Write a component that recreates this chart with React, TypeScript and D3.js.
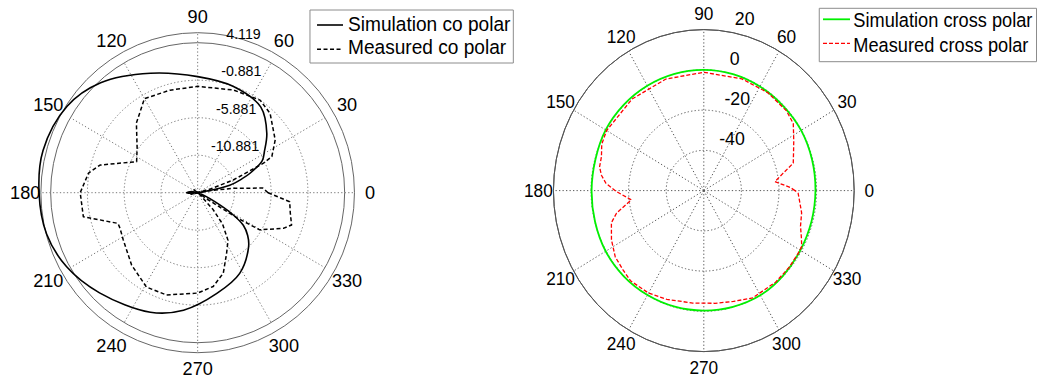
import React from 'react';
import * as d3 from 'd3';

const W = 1037;
const H = 382;

// ---- Co-polar pattern (dB) ----
const coSimAngles = [0, 6, 10, 13, 17, 20, 26, 31, 40, 53, 71, 90, 112, 132, 147, 165, 180, 195, 209, 225, 248, 263, 281, 298, 314, 320, 325, 329, 333, 340, 350];
const coSimDb = [-17.4, -16.6, -14.6, -11.4, -9.6, -8.3, -6.1, -5.3, -3.6, -1.6, -0.9, -0.4, 1.3, 3.85, 5.3, 5.9, 5.7, 5.4, 4.5, 3.0, 1.3, -0.1, -2.2, -3.7, -5.9, -7.0, -8.3, -10.5, -13.2, -15.4, -16.7];

const coMeasAngles = [0, 4, 7, 10, 13, 16, 19.3, 23.7, 25.5, 33.7, 47, 55.5, 70.5, 90, 105.4, 120, 131.9, 144, 153.5, 164.5, 170, 180, 191.6, 200.7, 204.2, 211.9, 227, 241, 252.8, 270, 279.6, 288, 296, 303, 309, 313, 318, 322, 326, 328, 329.6, 337.8, 341.4, 348, 354.5];
const coMeasDb = [-6.3, -7.0, -11.1, -14.5, -16.8, -14.0, -10.75, -6.1, -4.7, -3.2, -1.43, -0.9, -1.35, -1.7, -1.7, -1.4, -3.4, -5.7, -6.6, -2.1, -0.8, 0.1, 0.0, -4.3, -4.3, -3.96, -2.7, -1.5, -1.6, -2.5, -3.2, -4.6, -6.9, -8.3, -10.5, -12.8, -15.5, -16.5, -14.5, -9.5, -6.1, -3.3, -2.4, -3.0, -3.3];

const coRingTicks = [-10.881, -5.881, -0.881, 4.119];
const coCenterDb = -15.881;

// ---- Cross-polar pattern (dB) ----
const xSimAngles = [0, 15, 30, 45, 60, 75, 90, 105, 120, 135, 150, 165, 180, 195, 210, 225, 240, 255, 270, 285, 300, 315, 330, 345];
const xSimDb = [-0.6, -0.4, -0.2, -0.4, -0.3, -0.1, 0, 0.1, 0.2, 0.3, 0.3, -0.3, -0.3, -0.1, 0.3, 0.2, -0.1, -0.3, -0.4, -0.2, 0.1, -0.3, -0.7, -0.7];

const xMeasAngles = [0, 2, 6.7, 11.6, 16, 22, 27, 31, 35, 42, 55, 70, 90, 110, 130, 150, 157, 162.8, 168, 172, 176, 180.6, 186.8, 193.6, 198, 206.5, 215, 222.5, 229, 240, 250, 264, 276, 286, 296, 310, 320, 328, 332, 336, 341, 348, 355, 358.5];
const xMeasDb = [-11.5, -14, -21.9, -16.9, -10.5, -8.5, -6.3, -4.3, -1.9, -0.8, -0.6, -0.9, -1.2, -1.0, -0.6, -0.3, -1.0, -3.0, -3.3, -5, -7.8, -13.5, -21.2, -12.2, -8.3, -5.1, -2.5, -1.7, -0.6, -1.2, -2.5, -3.8, -3.7, -2.7, -0.7, -0.6, -0.7, -0.9, -1.0, -3.2, -5.6, -6.8, -9.0, -9.8];

const xRingTicks = [-40, -20, 0, 20];
const xCenterDb = -60;

const angleTicks = [0, 30, 60, 90, 120, 150, 180, 210, 240, 270, 300, 330];

const FONT = '"Liberation Sans", Arial, sans-serif';
const toRad = (d: number) => (d * Math.PI) / 180;

type Series = {
  angles: number[];
  values: number[];
  color: string;
  width: number;
  dash?: string;
  smooth: boolean;
  label: string;
};

type PanelProps = {
  x0: number;
  sx: number;
  cx: number;
  cy: number;
  rMax: number;
  rOuter: number;
  centerDb: number;
  ticks: number[];
  tickFont: number;
  gridColor: string;
  frameColor: string;
  series: Series[];
  legendBox: [number, number, number, number];
  legendLineX: [number, number];
  legendLineY: number[];
  legendTextX: number;
  legendBaseY: number[];
};

function PolarPanel(p: PanelProps) {
  const r = d3
    .scaleLinear()
    .domain([p.centerDb, p.ticks[p.ticks.length - 1]])
    .range([0, p.rMax]);
  const rinc = r(p.ticks[1]) - r(p.ticks[0]);
  const labelR = 1.1 * p.rOuter;

  const makePath = (s: Series) => {
    const data = s.angles.map((a, i) => [a, s.values[i]] as [number, number]);
    const gen = d3
      .lineRadial<[number, number]>()
      .angle((d) => Math.PI / 2 - toRad(d[0]))
      .radius((d) => r(d[1]))
      .curve(s.smooth ? d3.curveCatmullRomClosed.alpha(0.5) : d3.curveLinearClosed);
    return gen(data) || '';
  };

  const c82 = Math.cos(toRad(82));
  const s82 = Math.sin(toRad(82));
  const spaceW = 2 * 0.278 * p.tickFont;

  return (
    <g transform={`translate(${p.x0},0) scale(${p.sx},1)`}>
      <g transform={`translate(${p.cx},${p.cy})`}>
        {/* outer frame */}
        <circle r={p.rOuter} fill="none" stroke={p.frameColor} strokeWidth={1} vectorEffect="non-scaling-stroke" />
        {/* range rings */}
        {p.ticks.map((t, i) => {
          const last = i === p.ticks.length - 1;
          return (
            <circle
              key={`ring${i}`}
              r={r(t)}
              fill="none"
              stroke={last ? p.frameColor : p.gridColor}
              strokeWidth={1}
              strokeDasharray={last ? undefined : '1.3 2.2'}
              vectorEffect="non-scaling-stroke"
            />
          );
        })}
        {/* spokes */}
        {angleTicks.map((a) => {
          const len = a % 90 === 0 ? p.rOuter : p.rMax;
          return (
            <line
              key={`sp${a}`}
              x1={0}
              y1={0}
              x2={len * Math.cos(toRad(a))}
              y2={-len * Math.sin(toRad(a))}
              stroke={p.gridColor}
              strokeWidth={1}
              strokeDasharray="1.3 2.2"
              vectorEffect="non-scaling-stroke"
            />
          );
        })}
        {/* angle labels */}
        {angleTicks.map((a) => (
          <text
            key={`al${a}`}
            x={labelR * Math.cos(toRad(a))}
            y={-labelR * Math.sin(toRad(a))}
            textAnchor="middle"
            dominantBaseline="central"
            fontFamily={FONT}
            fontSize={18.5}
            fill="#000"
          >
            {a}
          </text>
        ))}
        {/* radial tick labels */}
        {p.ticks.map((t, i) => {
          const rr = r(t) + rinc / 20;
          return (
            <text
              key={`rl${i}`}
              x={rr * c82 + spaceW}
              y={-rr * s82 - 0.21 * p.tickFont}
              fontFamily={FONT}
              fontSize={p.tickFont}
              fill="#000"
            >
              {String(t)}
            </text>
          );
        })}
        {/* data */}
        {p.series.map((s, i) => (
          <path
            key={`s${i}`}
            d={makePath(s)}
            fill="none"
            stroke={s.color}
            strokeWidth={s.width}
            strokeDasharray={s.dash}
            strokeLinejoin="round"
            vectorEffect="non-scaling-stroke"
          />
        ))}
      </g>
      {/* legend */}
      <rect
        x={p.legendBox[0]}
        y={p.legendBox[1]}
        width={p.legendBox[2] - p.legendBox[0]}
        height={p.legendBox[3] - p.legendBox[1]}
        fill="#fff"
        stroke="#8c8c8c"
        strokeWidth={1}
        vectorEffect="non-scaling-stroke"
      />
      {p.series.map((s, i) => (
        <g key={`lg${i}`}>
          <line
            x1={p.legendLineX[0]}
            x2={p.legendLineX[1]}
            y1={p.legendLineY[i]}
            y2={p.legendLineY[i]}
            stroke={s.color}
            strokeWidth={s.width}
            strokeDasharray={s.dash}
            vectorEffect="non-scaling-stroke"
          />
          <text x={p.legendTextX} y={p.legendBaseY[i]} fontFamily={FONT} fontSize={19.5} fill="#000">
            {s.label}
          </text>
        </g>
      ))}
    </g>
  );
}

export default function App() {
  const coSeries: Series[] = [
    { angles: coSimAngles, values: coSimDb, color: '#000', width: 1.6, smooth: true, label: 'Simulation co polar' },
    { angles: coMeasAngles, values: coMeasDb, color: '#000', width: 1.5, dash: '4 2.5', smooth: false, label: 'Measured co polar' },
  ];
  const xSeries: Series[] = [
    { angles: xSimAngles, values: xSimDb, color: '#00f000', width: 1.8, smooth: true, label: 'Simulation cross polar' },
    { angles: xMeasAngles, values: xMeasDb, color: '#ff0000', width: 1.3, dash: '4 2', smooth: false, label: 'Measured cross polar' },
  ];

  return (
    <svg
      width={W}
      height={H}
      viewBox={`0 0 ${W} ${H}`}
      style={{ position: 'absolute', left: 0, top: 0, background: '#fff' }}
    >
      <rect width={W} height={H} fill="#fff" />
      <PolarPanel
        x0={0}
        sx={0.98}
        cx={201.7}
        cy={192.7}
        rMax={150}
        rOuter={160}
        centerDb={coCenterDb}
        ticks={coRingTicks}
        tickFont={14.5}
        gridColor="#7a7a7a"
        frameColor="#666"
        series={coSeries}
        legendBox={[316.3, 10, 523.8, 63]}
        legendLineX={[323.5, 350]}
        legendLineY={[25, 49.3]}
        legendTextX={355.1}
        legendBaseY={[30.7, 54]}
      />
      <PolarPanel
        x0={520}
        sx={0.934}
        cx={196.8}
        cy={190.6}
        rMax={161}
        rOuter={161}
        centerDb={xCenterDb}
        ticks={xRingTicks}
        tickFont={19}
        gridColor="#5a5a5a"
        frameColor="#555"
        series={xSeries}
        legendBox={[320.4, 8.3, 553, 61.7]}
        legendLineX={[324.4, 353.3]}
        legendLineY={[19.3, 43.3]}
        legendTextX={356.9}
        legendBaseY={[27.3, 51.7]}
      />
    </svg>
  );
}
